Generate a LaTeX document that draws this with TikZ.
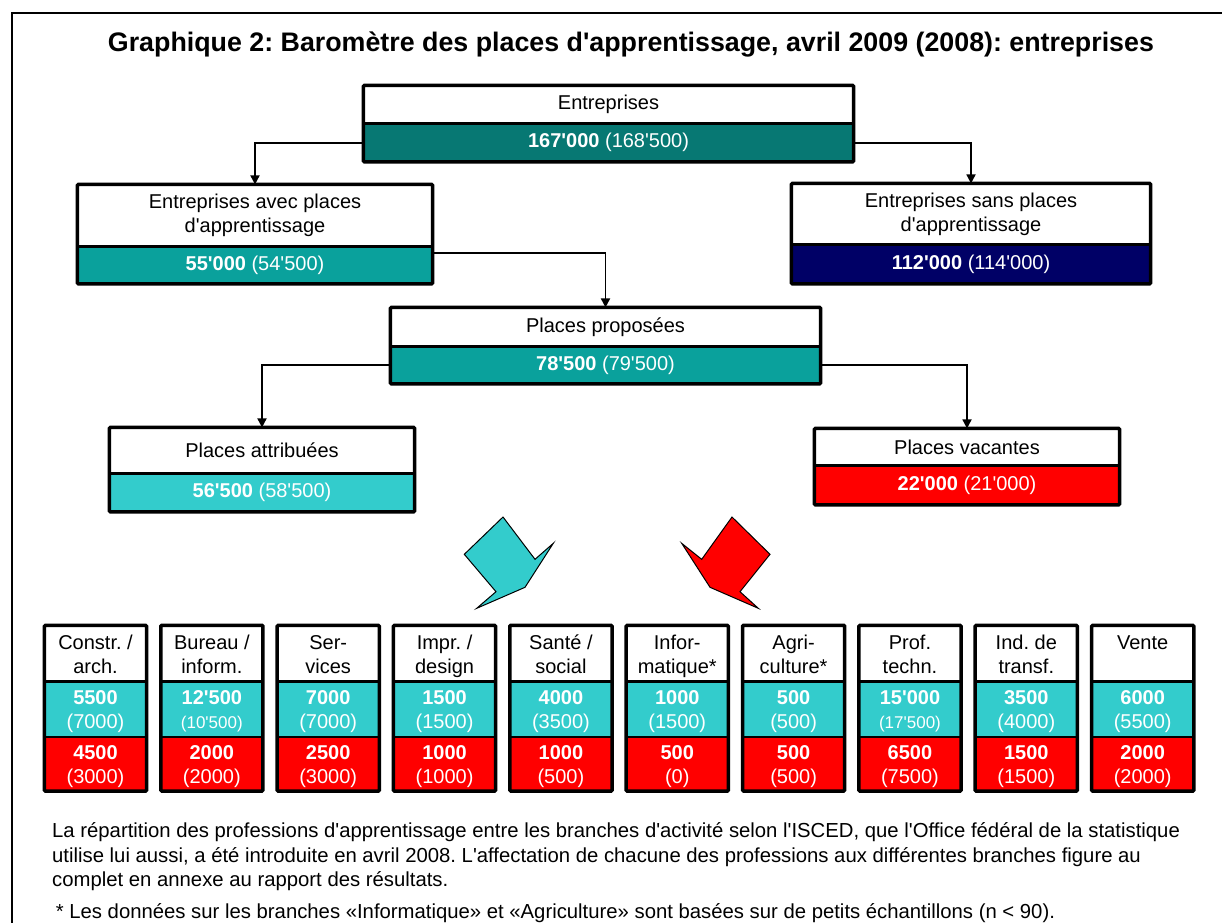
\documentclass[tikz,border=0pt]{standalone}
\usepackage{fontspec}
\setmainfont{Liberation Sans}[Ligatures=TeXOff]
\usetikzlibrary{arrows.meta,positioning,calc}

\definecolor{tealdark}{RGB}{7,120,115}
\definecolor{tealmid}{RGB}{10,161,156}
\definecolor{navyval}{RGB}{0,0,102}
\definecolor{cyanval}{RGB}{51,204,204}
\definecolor{redval}{RGB}{255,0,0}
\newcommand{\smallnum}{\fontsize{17}{20}\selectfont}

\tikzset{
  lab/.style={fill=white, draw=black, line width=1.2pt, inner sep=0pt, align=center,
    font=\fontsize{20}{24}\selectfont},
  val/.style={fill=#1, draw=black, line width=1.2pt, inner sep=0pt, align=center,
    text=white, font=\fontsize{20}{24}\selectfont},
  outline/.style={line width=3.5pt, rounded corners=1pt},
  conn/.style={line width=1.8pt, -{Triangle[length=9pt,width=9pt]}},
  bigarrow/.style={line width=1pt, line join=miter},
}

\begin{document}
\frenchspacing
\begin{tikzpicture}[x=1pt,y=-1pt]
  \useasboundingbox (0,0) rectangle (1222,922);
  \draw[line width=2.5pt] (12,13) rectangle (1260,960);

  \node[font=\bfseries\fontsize{26.8}{30}\selectfont] (title) at (631,45)
    {Graphique 2: Baromètre des places d'apprentissage, avril 2009 (2008): entreprises};

  % top of the tree
  \node[lab, minimum width=489pt, minimum height=37pt] (ent) at (608.5,104.5) {Entreprises};
  \node[val=tealdark, minimum width=489pt, minimum height=37pt, below=0pt of ent] (entv)
    {\textbf{167'000} (168'500)};

  \node[lab, minimum width=354pt, minimum height=61pt] (avec) at (255,215.5)
    {Entreprises avec places\\d'apprentissage};
  \node[val=tealmid, minimum width=354pt, minimum height=36pt, below=0pt of avec] (avecv)
    {\textbf{55'000} (54'500)};

  \node[lab, minimum width=358pt, minimum height=60pt] (sans) at (971,214)
    {Entreprises sans places\\d'apprentissage};
  \node[val=navyval, minimum width=358pt, minimum height=38pt, below=0pt of sans] (sansv)
    {\textbf{112'000} (114'000)};

  \node[lab, minimum width=429pt, minimum height=38pt] (prop) at (605.5,327) {Places proposées};
  \node[val=tealmid, minimum width=429pt, minimum height=36pt, below=0pt of prop] (propv)
    {\textbf{78'500} (79'500)};

  \node[lab, minimum width=304pt, minimum height=45pt] (attr) at (262,450.5) {Places attribuées};
  \node[val=cyanval, minimum width=304pt, minimum height=37pt, below=0pt of attr] (attrv)
    {\textbf{56'500} (58'500)};

  \node[lab, minimum width=304pt, minimum height=36pt] (vac) at (967,447) {Places vacantes};
  \node[val=redval, minimum width=304pt, minimum height=38pt, below=0pt of vac] (vacv)
    {\textbf{22'000} (21'000)};

  \draw[conn] (entv.west) -| (avec.north);
  \draw[conn] (entv.east) -| (sans.north);
  \draw[conn] ([yshift=-6pt]avecv.north east) -| (prop.north);
  \draw[conn] (propv.west) -| (attr.north);
  \draw[conn] (propv.east) -| (vac.north);

  \foreach \n in {ent,avec,sans,prop,attr,vac}
    \draw[outline] (\n.north west) rectangle (\n v.south east);

  % big arrows
  \filldraw[bigarrow, fill=cyanval] (503,517) -- (535,559.3) -- (553.3,543.3) -- (525,587.3)
    -- (476.7,608.3) -- (496,591.7) -- (464.3,554.3) -- cycle;
  \filldraw[bigarrow, fill=redval] (732,517) -- (701.7,559.3) -- (681.7,543.3) -- (710,587.3)
    -- (758.3,608.3) -- (740,591.7) -- (770,554.3) -- cycle;

  % branches
  \foreach \i/\la/\lb/\ca/\cb/\ra/\rb in {
    0/{Constr. /}/arch./5500/(7000)/4500/(3000),
    1/{Bureau /}/inform./12'500/{\smallnum(10'500)}/2000/(2000),
    2/Ser-/vices/7000/(7000)/2500/(3000),
    3/{Impr. /}/design/1500/(1500)/1000/(1000),
    4/{Santé /}/social/4000/(3500)/1000/(500),
    5/Infor-/matique*/1000/(1500)/500/(0),
    6/Agri-/culture*/500/(500)/500/(500),
    7/Prof./techn./15'000/{\smallnum(17'500)}/6500/(7500),
    8/Ind. de/transf./3500/(4000)/1500/(1500),
    9/Vente/{}/6000/(5500)/2000/(2000)}
  {
    \pgfmathsetmacro{\bx}{95.5+116.35*\i}
    \node[lab, minimum width=101pt, minimum height=55pt] (b\i) at (\bx,653.5)
      {\rule{0pt}{23pt}\la\\\strut\lb};
    \node[val=cyanval, minimum width=101pt, minimum height=54pt, below=0pt of b\i] (bc\i)
      {\rule{0pt}{18pt}\textbf{\ca}\\\cb};
    \node[val=redval, minimum width=101pt, minimum height=53pt, below=0pt of bc\i] (br\i)
      {\rule{0pt}{19pt}\textbf{\ra}\\\rb};
    \draw[outline] (b\i.north west) rectangle (br\i.south east);
  }

  % notes
  \tikzset{note/.style={anchor=base west, inner sep=0pt, font=\fontsize{20.3}{24}\selectfont}}
  \node[note] (note1) at (52,837) {La répartition des professions d'apprentissage entre les branches d'activité selon l'ISCED, que l'Office fédéral de la statistique};
  \node[note] (note2) at (52,862) {utilise lui aussi, a été introduite en avril 2008. L'affectation de chacune des professions aux différentes branches figure au};
  \node[note] (note3) at (52,886) {complet en annexe au rapport des résultats.};
  \node[note] (foot) at (50,918) {\ * Les données sur les branches «Informatique» et «Agriculture» sont basées sur de petits échantillons (n < 90).};
\end{tikzpicture}
\end{document}
